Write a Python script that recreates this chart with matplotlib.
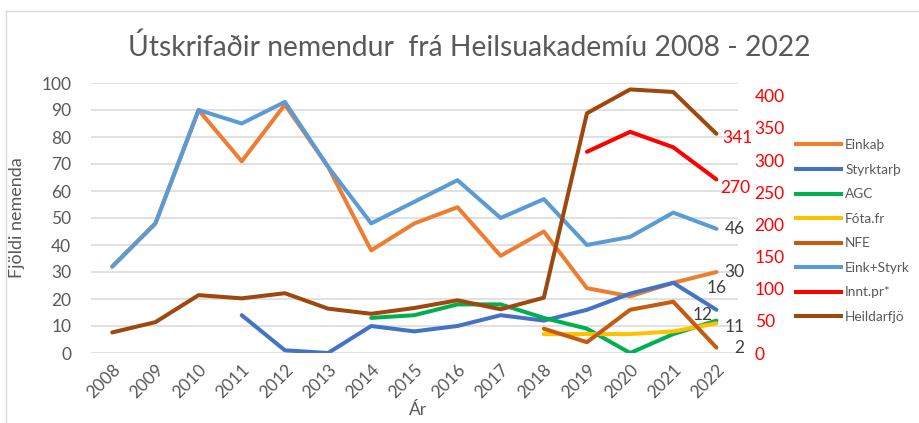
import matplotlib
matplotlib.use("Agg")
import matplotlib.pyplot as plt
import numpy as np
from matplotlib.lines import Line2D

plt.rcParams['font.family'] = ['Lato', 'DejaVu Sans']

years = [str(y) for y in range(2008, 2023)]
nan = np.nan
einkath = [32, 48, 90, 71, 92, 69, 38, 48, 54, 36, 45, 24, 21, 26, 30]
styrktarth = [nan, nan, nan, 14, 1, 0, 10, 8, 10, 14, 12, 16, 22, 26, 16]
agc = [nan, nan, nan, nan, nan, nan, 13, 14, 18, 18, 13, 9, 0, 7, 12]
fota = [nan] * 10 + [7, 7, 7, 8, 11]
nfe = [nan] * 10 + [9, 4, 16, 19, 2]
eink_styrk = [32, 48, 90, 85, 93, 69, 48, 56, 64, 50, 57, 40, 43, 52, 46]
inntpr = [nan] * 11 + [313, 344, 320, 270]
heild = [32, 48, 90, 85, 93, 69, 61, 70, 82, 68, 86, 373, 410, 406, 341]

left_series = [
    ("Einkaþ", einkath, "#ED7D31"),
    ("Styrktarþ", styrktarth, "#4472C4"),
    ("AGC", agc, "#00B050"),
    ("Fóta.fr", fota, "#FFC000"),
    ("NFE", nfe, "#C55A11"),
    ("Eink+Styrk", eink_styrk, "#5B9BD5"),
]
right_series = [
    ("Innt.pr*", inntpr, "#FF0000"),
    ("Heildarfjö", heild, "#9E480E"),
]

W, H = 919, 423
fig = plt.figure(figsize=(W / 100, H / 100), dpi=100)
ax = fig.add_axes([90.7 / W, 1 - 353 / H, (738 - 90.7) / W, (353 - 83) / H])
ax2 = ax.twinx()

x = np.arange(len(years))
lw = 2.9
for name, vals, col in left_series:
    ax.plot(x, vals, color=col, lw=lw, solid_capstyle='round', solid_joinstyle='round', label=name)
for name, vals, col in right_series:
    ax2.plot(x, vals, color=col, lw=lw, solid_capstyle='round', solid_joinstyle='round', label=name)

ax.set_xlim(-0.5, len(years) - 0.5)
ax.set_ylim(0, 100)
ax2.set_ylim(0, 420)
ax.set_yticks(range(0, 101, 10))
ax2.set_yticks(range(0, 401, 50))
ax.grid(axis='y', color='#D9D9D9', lw=1.1)
ax.set_axisbelow(True)
for a in (ax, ax2):
    for s in a.spines.values():
        s.set_visible(False)
ax.tick_params(axis='both', length=0, colors='#595959', labelsize=12.5)
ax.tick_params(axis='y', pad=14)
ax2.tick_params(axis='y', length=0, colors='#FF0000', labelsize=12.5, pad=12)
ax.set_xticks(x)
ax.set_xticklabels(years, rotation=45, ha='right', va='top', rotation_mode='anchor')
ax.tick_params(axis='x', pad=6)

ax.set_ylabel("Fjöldi nemenda", color='#595959', fontsize=13)
ax.yaxis.set_label_coords((25 - 90.7) / 647.3, 0.5)
ax.set_xlabel("Ár", color='#595959', fontsize=12.5)
ax.xaxis.set_label_coords((418 - 90.7) / 647.3, (353 - 402) / 270)

fig.text(469 / W, 1 - 47 / H, "Útskrifaðir nemendur  frá Heilsuakademíu 2008 - 2022",
         ha='center', va='center', fontsize=20.3, color='#595959')

# data labels at last point
last = len(years) - 1
lab_kw = dict(fontsize=12.5, color='#404040', va='center')
ax.annotate(str(eink_styrk[last]), (last, eink_styrk[last]), xytext=(6, 0), textcoords='offset points', ha='left', **lab_kw)
ax.annotate(str(einkath[last]), (last, einkath[last]), xytext=(6, 0), textcoords='offset points', ha='left', **lab_kw)
ax.annotate(str(styrktarth[last]), (last, styrktarth[last]), xytext=(-7, 16), textcoords='offset points', ha='left', **lab_kw)
ax.annotate(str(agc[last]), (last, agc[last]), xytext=(-3, 4), textcoords='offset points', ha='right', **lab_kw)
ax.annotate(str(fota[last]), (last, fota[last]), xytext=(6, -3), textcoords='offset points', ha='left', **lab_kw)
ax.annotate(str(nfe[last]), (last, nfe[last]), xytext=(13, 0), textcoords='offset points', ha='left', **lab_kw)
lab_kw2 = dict(fontsize=12.5, color='#FF0000', va='center', ha='left')
ax2.annotate(str(heild[last]), (last, heild[last]), xytext=(4, -3), textcoords='offset points', **lab_kw2)
ax2.annotate(str(inntpr[last]), (last, inntpr[last]), xytext=(3, -6), textcoords='offset points', **lab_kw2)

handles = [Line2D([], [], color=c, lw=lw) for _, _, c in left_series + right_series]
labels = [n for n, _, _ in left_series + right_series]
leg = fig.legend(handles, labels, loc='upper left', bbox_to_anchor=(784 / W, 1 - 127 / H),
                 frameon=False, fontsize=9.8, handlelength=3.3, labelspacing=0.92,
                 handletextpad=0.3, labelcolor='#595959')

# chart border
fig.add_artist(Line2D([6 / W, 1], [1 - 11 / H, 1 - 11 / H], color='#D9D9D9', lw=1, transform=fig.transFigure))
fig.add_artist(Line2D([6 / W, 6 / W], [1 - 11 / H, 0], color='#D9D9D9', lw=1, transform=fig.transFigure))

fig.savefig("out.png", dpi=100)
